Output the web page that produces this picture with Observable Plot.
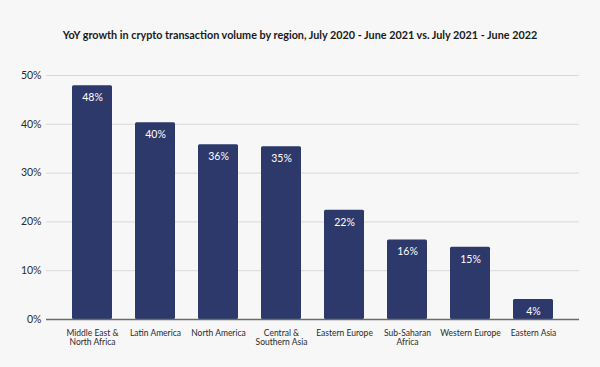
<!DOCTYPE html>
<html>
<head>
<meta charset="utf-8">
<script src="https://cdn.jsdelivr.net/npm/d3@7"></script>
<script src="https://cdn.jsdelivr.net/npm/@observablehq/plot@0.6"></script>
<style>
  html, body { margin: 0; padding: 0; background: #f7f7f7; }
  #title { height: 60px; box-sizing: border-box; padding-top: 28px; text-align: center;
    font-family: Lato, sans-serif; font-weight: 700; font-size: 10.8px; color: #1a1a1a; }
  #chart svg { display: block; background: #f7f7f7; }
</style>
</head>
<body>
<div id="title">YoY growth in crypto transaction volume by region, July 2020 - June 2021 vs. July 2021 - June 2022</div>
<div id="chart"></div>
<script>
const regions = ["Middle East & North Africa", "Latin America", "North America", "Central & Southern Asia", "Eastern Europe", "Sub-Saharan Africa", "Western Europe", "Eastern Asia"];
const axisLabels = ["Middle East &\nNorth Africa", "Latin America", "North America", "Central &\nSouthern Asia", "Eastern Europe", "Sub-Saharan\nAfrica", "Western Europe", "Eastern Asia"];
const growth = [47.9, 40.3, 35.8, 35.4, 22.4, 16.3, 14.8, 4.1];
const valueLabels = ["48%", "40%", "36%", "35%", "22%", "16%", "15%", "4%"];
const yTicks = [0, 10, 20, 30, 40, 50];

const data = regions.map((r, i) => ({region: r, value: growth[i], label: valueLabels[i]}));
const labelOf = new Map(regions.map((r, i) => [r, axisLabels[i]]));

const chart = Plot.plot({
  width: 600,
  height: 307,
  marginTop: 15,
  marginBottom: 48,
  marginLeft: 46,
  marginRight: 21,
  style: {fontFamily: "Lato, sans-serif", background: "#f7f7f7"},
  x: {domain: regions, padding: 0.36, label: null},
  y: {domain: [0, 50], label: null},
  marks: [
    Plot.ruleY(yTicks.filter(d => d > 0), {stroke: "#d9d9d9", strokeWidth: 1}),
    Plot.barY(data, {x: "region", y: "value", fill: "#2d386b", rx: 1.5}),
    Plot.ruleY([0], {stroke: "#6b6b6b", strokeWidth: 1.5}),
    Plot.text(data, {x: "region", y: "value", text: "label", dy: 12, fill: "white", fontSize: 10.5}),
    Plot.axisY({ticks: yTicks, tickFormat: d => d + "%", tickSize: 0, tickPadding: 5, fontSize: 10.5, fill: "#2a2a2a"}),
    Plot.axisX({tickSize: 0, tickPadding: 10, tickFormat: d => labelOf.get(d), fontSize: 8.5, fill: "#2a2a2a", lineHeight: 1.05})
  ]
});
document.getElementById("chart").appendChild(chart);
</script>
</body>
</html>
